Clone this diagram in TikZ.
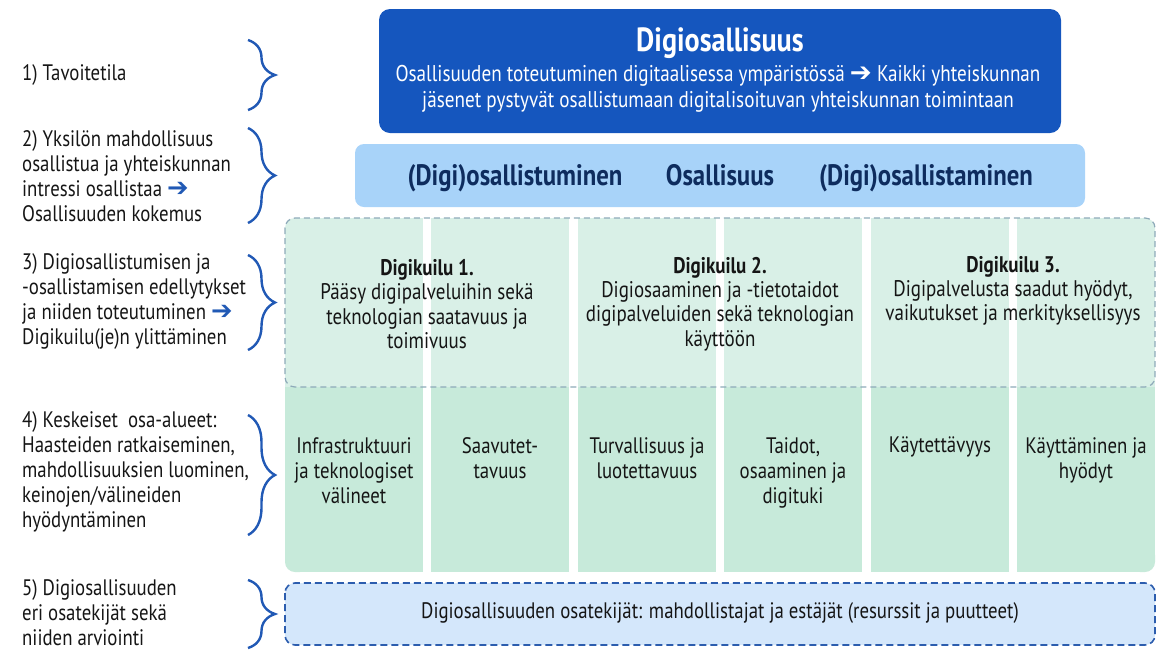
\documentclass[tikz,border=0pt]{standalone}
\usepackage{fontspec}
\setmainfont{PT Sans}[FakeStretch=0.84]
\newfontfamily\sym{DejaVu Sans}
\usetikzlibrary{decorations.pathreplacing}
\definecolor{topblue}{HTML}{1556BE}
\definecolor{midblue}{HTML}{A8D3F9}
\definecolor{navy}{HTML}{0E2C5E}
\definecolor{greenA}{HTML}{D9F0E7}
\definecolor{greenB}{HTML}{C7EADA}
\definecolor{dashgray}{HTML}{8EAAB9}
\definecolor{botfill}{HTML}{D4E7FB}
\definecolor{botline}{HTML}{2C5DAE}
\definecolor{bracecol}{HTML}{2159B5}
\definecolor{txt}{HTML}{151515}
\newcommand{\arr}[1]{{\color{#1}\sym\bfseries\smash{\scalebox{1.15}{\char"2794}}}}
\begin{document}
\begin{tikzpicture}[x=1pt,y=-1pt,
  lefttxt/.style={anchor=west,align=left,text=txt,inner sep=0pt,font=\fontsize{22.4}{25}\selectfont},
  coltxt/.style={align=center,text=txt,inner sep=0pt,font=\fontsize{22.4}{25}\selectfont},
  gaptxt/.style={align=center,text=txt,inner sep=0pt,font=\fontsize{22.6}{24.3}\selectfont},
  midtxt/.style={text=navy,inner sep=0pt,anchor=base,font=\fontsize{29.5}{30}\selectfont\bfseries},
  bracestyle/.style={draw=bracecol,line width=2.4pt,decorate,decoration={brace,amplitude=27pt,aspect=0.5}}
]
\useasboundingbox (0,0) rectangle (1168,657);

% top box
\fill[topblue,rounded corners=11pt] (379,9) rectangle (1061,133);
\node[text=white,inner sep=0pt,font=\fontsize{33.5}{36}\selectfont\bfseries] (title) at (720,43) {Digiosallisuus};
\node[text=white,inner sep=0pt,align=center,font=\fontsize{22.8}{26}\selectfont] (sub) at (718,89)
  {Osallisuuden toteutuminen digitaalisessa ympäristössä \arr{white} Kaikki yhteiskunnan\\jäsenet pystyvät osallistumaan digitalisoituvan yhteiskunnan toimintaan};

% second box
\fill[midblue,rounded corners=9pt] (355,144) rectangle (1085,207);
\node[midtxt] (m1) at (515,185) {(Digi)osallistuminen};
\node[midtxt] (m2) at (720,185) {Osallisuus};
\node[midtxt] (m3) at (926,185) {(Digi)osallistaminen};

% green columns
\foreach \xa/\xb in {285/423,431/569,578/716,724/862,871/1009,1017/1155}{
  \fill[greenA] (\xa,218) rectangle (\xb,387);
  \fill[greenB] (\xa,387) rectangle (\xb,572);
}
% rounded outer corners
\fill[white] (284,217) rectangle (296,229);
\fill[greenA,rounded corners=10pt] (285,218) rectangle (310,245);
\fill[greenA] (297,218) rectangle (310,245);
\fill[greenA] (285,232) rectangle (310,245);
\fill[white] (1144,217) rectangle (1156,229);
\fill[greenA,rounded corners=10pt] (1130,218) rectangle (1155,245);
\fill[greenA] (1130,218) rectangle (1143,245);
\fill[greenA] (1130,232) rectangle (1155,245);
\fill[white] (284,561) rectangle (296,573);
\fill[greenB,rounded corners=10pt] (285,545) rectangle (310,572);
\fill[greenB] (297,545) rectangle (310,572);
\fill[greenB] (285,545) rectangle (310,558);
\fill[white] (1144,561) rectangle (1156,573);
\fill[greenB,rounded corners=10pt] (1130,545) rectangle (1155,572);
\fill[greenB] (1130,545) rectangle (1143,572);
\fill[greenB] (1130,545) rectangle (1155,558);
% dashed frame of gap region
\draw[dashgray,line width=1.2pt,dash pattern=on 6pt off 4pt,rounded corners=10pt] (285,218) rectangle (1155,387);

\node[gaptxt] (g1) at (427,304) {\textbf{Digikuilu 1.}\\Pääsy digipalveluihin sekä\\teknologian saatavuus ja\\toimivuus};
\node[gaptxt] (g2) at (720,304) {\textbf{Digikuilu 2.}\\Digiosaaminen ja -tietotaidot\\digipalveluiden sekä teknologian\\käyttöön};
\node[gaptxt,anchor=north] (g3) at (1013,256) {\textbf{Digikuilu 3.}\\Digipalvelusta saadut hyödyt,\\vaikutukset ja merkityksellisyys};

% area columns
\node[coltxt,anchor=north] (c1) at (354,437) {Infrastruktuuri\\ja teknologiset\\välineet};
\node[coltxt,anchor=north] (c2) at (500,437) {Saavutet-\\tavuus};
\node[coltxt,anchor=north] (c3) at (647,437) {Turvallisuus ja\\luotettavuus};
\node[coltxt,anchor=north] (c4) at (793,437) {Taidot,\\osaaminen ja\\digituki};
\node[coltxt,anchor=north] (c5) at (940,437) {Käytettävyys};
\node[coltxt,anchor=north] (c6) at (1086,437) {Käyttäminen ja\\hyödyt};

% bottom box
\draw[botline,fill=botfill,line width=1.6pt,dash pattern=on 7pt off 4pt,rounded corners=10pt] (285,583) rectangle (1155,645);
\node[coltxt] (bot) at (720,613) {Digiosallisuuden osatekijät: mahdollistajat ja estäjät (resurssit ja puutteet)};

% left labels
\node[lefttxt] (l1) at (22,75) {1) Tavoitetila};
\node[lefttxt] (l2) at (22,176) {2) Yksilön mahdollisuus\\osallistua ja yhteiskunnan\\intressi osallistaa \arr{bracecol}\\Osallisuuden kokemus};
\node[lefttxt] (l3) at (22,301) {3) Digiosallistumisen ja\\-osallistamisen edellytykset\\ja niiden toteutuminen \arr{bracecol}\\Digikuilu(je)n ylittäminen};
\node[lefttxt] (l4) at (22,472) {4) Keskeiset\ \ osa-alueet:\\Haasteiden ratkaiseminen,\\mahdollisuuksien luominen,\\keinojen/välineiden\\hyödyntäminen};
\node[lefttxt] (l5) at (22,613) {5) Digiosallisuuden\\eri osatekijät sekä\\niiden arviointi};

% braces
\draw[bracestyle] (248,40) -- (248,110);
\draw[bracestyle] (248,128) -- (248,223);
\draw[bracestyle] (248,255) -- (248,350);
\draw[bracestyle] (248,415) -- (248,535);
\draw[bracestyle] (248,580) -- (248,648);
\end{tikzpicture}
\end{document}
